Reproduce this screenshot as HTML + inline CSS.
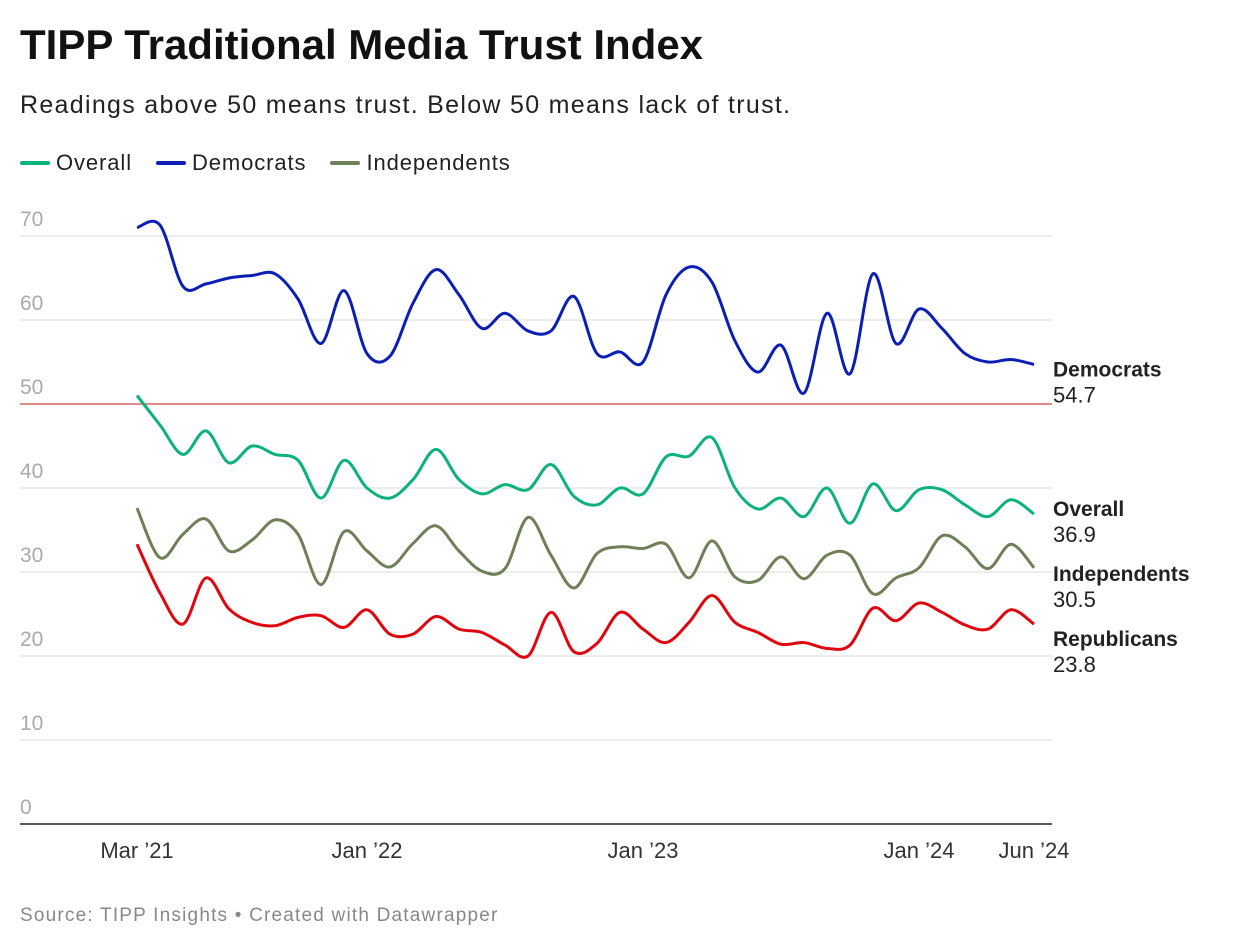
<!DOCTYPE html>
<html><head><meta charset="utf-8"><style>
body{margin:0;background:#fff;font-family:"Liberation Sans",sans-serif;}
#wrap{position:relative;width:1240px;height:952px;overflow:hidden;}
h1{position:absolute;left:20px;top:21px;margin:0;font-size:42px;font-weight:bold;color:#111;letter-spacing:0px;}
.sub{position:absolute;left:20px;top:91px;font-size:25px;color:#222;letter-spacing:1.3px;}
.legend{position:absolute;left:20px;top:150px;font-size:22px;color:#222;display:flex;gap:24px;letter-spacing:0.9px;}
.legend span{display:flex;align-items:center;}
.legend i{display:inline-block;width:30px;height:4px;border-radius:2px;margin-right:6px;}
.src{position:absolute;left:20px;top:905px;font-size:19px;color:#888;letter-spacing:1.2px;}
</style></head><body>
<div id="wrap">
<h1>TIPP Traditional Media Trust Index</h1>
<div class="sub">Readings above 50 means trust. Below 50 means lack of trust.</div>
<div class="legend">
<span><i style="background:#0bb27a"></i>Overall</span>
<span><i style="background:#0c1fb5"></i>Democrats</span>
<span><i style="background:#6e8057"></i>Independents</span>
</div>
<svg id="chart" width="1240" height="952" style="position:absolute;left:0;top:0"></svg>
<div class="src">Source: TIPP Insights • Created with Datawrapper</div>
</div>
<script>
const yTicks=[0,10,20,30,40,50,60,70];
const xTickLabels=["Mar ’21","Jan ’22","Jan ’23","Jan ’24","Jun ’24"];
const xTickIndex=[0,10,22,34,39];
const democrats=[71,71.3,64,64.3,65,65.3,65.5,62.5,57.2,63.5,56,55.7,62,66,63,59,60.8,58.7,58.7,62.8,56,56.2,55,63,66.3,64.5,57.5,53.8,57,51.3,60.8,53.6,65.5,57.2,61.3,59,56,55,55.3,54.7];
const overall=[51,47.5,44,46.8,43,45,44,43.3,38.8,43.3,40,38.8,41,44.6,41,39.3,40.4,39.8,42.8,39,38,40,39.3,43.7,43.8,46,40,37.5,38.8,36.6,40,35.8,40.5,37.3,39.8,39.8,38,36.6,38.6,36.9];
const independents=[37.6,31.7,34.5,36.3,32.5,33.8,36.2,34.5,28.5,34.8,32.5,30.6,33.4,35.5,32.5,30.1,30.4,36.5,32,28.1,32.2,33,32.8,33.3,29.3,33.7,29.4,29,31.8,29.2,32,32,27.4,29.3,30.5,34.3,33,30.4,33.3,30.5];
const republicans=[33.3,27.5,23.8,29.3,25.6,24,23.6,24.6,24.8,23.4,25.5,22.6,22.6,24.7,23.2,22.8,21.3,20,25.2,20.5,21.5,25.2,23.2,21.6,24,27.2,24,22.8,21.4,21.6,20.9,21.3,25.7,24.2,26.3,25.2,23.7,23.2,25.5,23.8];
const seriesNames=["Democrats","Overall","Independents","Republicans"];
const NS="http://www.w3.org/2000/svg";
const svg=document.getElementById('chart');
const x=i=>137+i*23;
const y=v=>824-v*8.4;
function el(t,a){const e=document.createElementNS(NS,t);for(const k in a)e.setAttribute(k,a[k]);svg.appendChild(e);return e;}
yTicks.forEach(t=>{
  if(t>0){const l=el('line',{x1:20,x2:1052,y1:y(t),y2:y(t),stroke:t===50?'#e08a8a':'#e2e2e2','stroke-width':t===50?2:1.3});
  
  }
  const tx=el('text',{x:20,y:y(t)-10,'font-size':21,fill:'#aaa','font-family':'Liberation Sans, sans-serif'});
  tx.textContent=t;
  
  
});
const base=el('line',{x1:20,x2:1052,y1:824,y2:824,stroke:'#222','stroke-width':1.5});


xTickIndex.forEach((ix,k)=>{
  const tx=el('text',{x:x(ix),y:858,'font-size':22,fill:'#333','text-anchor':'middle','font-family':'Liberation Sans, sans-serif'});
  tx.textContent=xTickLabels[k];
  
  
});
function path(d){
  const p=d.map((v,i)=>[x(i),y(v)]);
  let s='M'+p[0][0]+','+p[0][1];
  for(let i=0;i<p.length-1;i++){
    const p0=p[i-1]||p[i],p1=p[i],p2=p[i+1],p3=p[i+2]||p2;
    const c1=[p1[0]+(p2[0]-p0[0])/6,p1[1]+(p2[1]-p0[1])/6];
    const c2=[p2[0]-(p3[0]-p1[0])/6,p2[1]-(p3[1]-p1[1])/6];
    s+=`C${c1[0]},${c1[1]} ${c2[0]},${c2[1]} ${p2[0]},${p2[1]}`;
  }
  return s;
}
const data=[democrats,overall,independents,republicans];
const colors=['#0c1fb5','#0bb27a','#6e8057','#e0060f'];
const labelDy=[4,-6,5,14];
data.forEach((d,k)=>{
  const p=el('path',{d:path(d),fill:'none',stroke:colors[k],'stroke-width':3,'stroke-linejoin':'round'});
  
  
  const last=d[d.length-1];
  const ly=y(last)+labelDy[k];
  const t1=el('text',{x:1053,y:ly+8,'font-size':21,'font-weight':'bold',fill:'#222','font-family':'Liberation Sans, sans-serif'});
  t1.textContent=seriesNames[k];
  
  
  const t2=el('text',{x:1053,y:ly+34,'font-size':22,fill:'#222','font-family':'Liberation Sans, sans-serif'});
  t2.textContent=last.toFixed(1);
  
  
});
</script>
</body></html>
